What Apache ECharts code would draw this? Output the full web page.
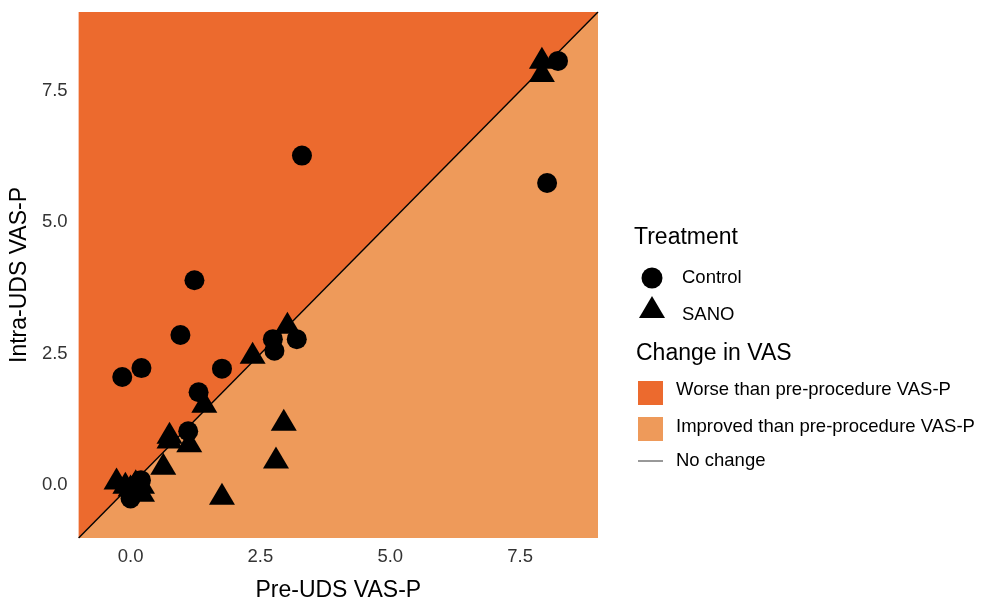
<!DOCTYPE html>
<html>
<head>
<meta charset="utf-8">
<script src="https://cdn.jsdelivr.net/npm/echarts@6/dist/echarts.min.js"></script>
<style>
html,body{margin:0;padding:0;background:#fff;}
#chart{width:997px;height:607px;}
</style>
</head>
<body>
<div id="chart"></div>
<script>
// ---- data ----
var controlPoints = [
  [8.23, 8.07], [8.02, 5.75], [3.30, 6.27], [1.23, 3.90], [0.96, 2.86],
  [-0.16, 2.06], [0.21, 2.23], [1.76, 2.22], [2.74, 2.78], [2.77, 2.56],
  [3.20, 2.78], [1.31, 1.77], [1.11, 1.03], [0.00, -0.25], [0.10, 0.00],
  [0.20, 0.10], [0.05, -0.10]
];
var sanoPoints = [
  [7.92, 8.13], [7.92, 7.88], [3.02, 3.09], [2.35, 2.52], [1.42, 1.59],
  [2.95, 1.25], [2.80, 0.53], [1.76, -0.16], [0.75, 1.00], [0.75, 0.91],
  [1.13, 0.84], [0.63, 0.41], [-0.27, 0.13], [0.00, 0.00], [0.10, 0.10],
  [0.22, 0.05], [0.22, -0.10], [-0.10, 0.05]
];
var axisMin = -1, axisMax = 9;
var xTicks = [0, 2.5, 5, 7.5];
var yTicks = [0, 2.5, 5, 7.5];
var worseRegion = [[-1, -1], [-1, 9], [9, 9]];
var improvedRegion = [[-1, -1], [9, 9], [9, -1]];
var noChangeLine = [[-1, -1], [9, 9]];
var xTitle = 'Pre-UDS VAS-P';
var yTitle = 'Intra-UDS VAS-P';

var WORSE = '#EC6A2E';
var IMPROVED = '#EE9A5A';
var FONT = "'Liberation Sans', Arial, Helvetica, sans-serif";

function polygonSeries(name, verts, color) {
  return {
    name: name,
    type: 'custom',
    silent: true,
    z: 1,
    data: [0],
    renderItem: function (params, api) {
      var pts = verts.map(function (v) { return api.coord(v); });
      return { type: 'polygon', shape: { points: pts }, style: { fill: color } };
    }
  };
}

var chart = echarts.init(document.getElementById('chart'), null, { renderer: 'canvas' });
var option = {
  animation: false,
  backgroundColor: '#ffffff',
  textStyle: { fontFamily: FONT },
  grid: { left: 77, right: 399, top: 12, bottom: 62, containLabel: false },
  xAxis: {
    type: 'value', min: axisMin, max: axisMax,
    splitLine: { show: false },
    axisLine: { show: false },
    axisTick: { show: true, length: 5, lineStyle: { color: '#333', width: 1 }, customValues: xTicks },
    axisLabel: { customValues: xTicks, color: '#333333', fontSize: 18.5, fontFamily: FONT, margin: 9,
      formatter: function (v) { return v.toFixed(1); } },
    name: xTitle, nameLocation: 'middle', nameGap: 41,
    nameTextStyle: { color: '#000', fontSize: 23, fontFamily: FONT }
  },
  yAxis: {
    type: 'value', min: axisMin, max: axisMax,
    splitLine: { show: false },
    axisLine: { show: false },
    axisTick: { show: true, length: 5, lineStyle: { color: '#333', width: 1 }, customValues: yTicks },
    axisLabel: { customValues: yTicks, color: '#333333', fontSize: 18.5, fontFamily: FONT, margin: 11,
      formatter: function (v) { return v.toFixed(1); } },
    name: yTitle, nameLocation: 'middle', nameGap: 45, nameRotate: 90,
    nameTextStyle: { color: '#000', fontSize: 23, fontFamily: FONT }
  },
  series: [
    polygonSeries('Worse than pre-procedure VAS-P', worseRegion, WORSE),
    polygonSeries('Improved than pre-procedure VAS-P', improvedRegion, IMPROVED),
    {
      name: 'No change', type: 'line', data: noChangeLine, z: 2,
      symbol: 'none', silent: true,
      lineStyle: { color: '#000', width: 1.4 }
    },
    {
      name: 'Control', type: 'scatter', data: controlPoints, z: 3,
      symbol: 'circle', symbolSize: 20,
      itemStyle: { color: '#000', opacity: 1 }
    },
    {
      name: 'SANO', type: 'scatter', data: sanoPoints, z: 3,
      symbol: 'triangle', symbolSize: [26, 22],
      itemStyle: { color: '#000', opacity: 1 }
    }
  ],
  graphic: [
    { type: 'text', left: 634, top: 226, style: { text: 'Treatment', font: '23px ' + FONT, fill: '#000' } },
    { type: 'circle', shape: { cx: 652, cy: 278, r: 10.5 }, style: { fill: '#000' } },
    { type: 'text', left: 682, top: 268, style: { text: 'Control', font: '18.5px ' + FONT, fill: '#000' } },
    { type: 'polygon', shape: { points: [[652, 296], [665, 318], [639, 318]] }, style: { fill: '#000' } },
    { type: 'text', left: 682, top: 305, style: { text: 'SANO', font: '18.5px ' + FONT, fill: '#000' } },
    { type: 'text', left: 636, top: 342, style: { text: 'Change in VAS', font: '23px ' + FONT, fill: '#000' } },
    { type: 'rect', shape: { x: 638, y: 381, width: 25, height: 24 }, style: { fill: WORSE } },
    { type: 'text', left: 676, top: 380, style: { text: 'Worse than pre-procedure VAS-P', font: '18.5px ' + FONT, fill: '#000' } },
    { type: 'rect', shape: { x: 638, y: 417, width: 25, height: 24 }, style: { fill: IMPROVED } },
    { type: 'text', left: 676, top: 417, style: { text: 'Improved than pre-procedure VAS-P', font: '18.5px ' + FONT, fill: '#000' } },
    { type: 'line', shape: { x1: 638, y1: 461, x2: 663, y2: 461 }, style: { stroke: '#333', lineWidth: 1 } },
    { type: 'text', left: 676, top: 451, style: { text: 'No change', font: '18.5px ' + FONT, fill: '#000' } }
  ]
};
chart.setOption(option);
</script>
</body>
</html>
